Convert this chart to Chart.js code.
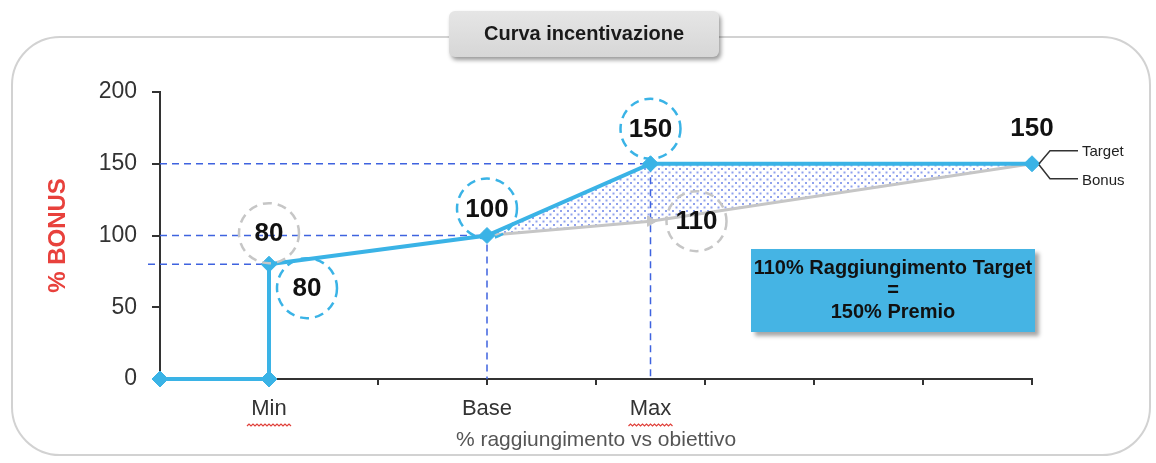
<!DOCTYPE html>
<html>
<head>
<meta charset="utf-8">
<script src="https://cdn.jsdelivr.net/npm/chart.js@4.4.1/dist/chart.umd.min.js"></script>
<style>
  html, body { margin: 0; padding: 0; background: #fff; }
  #wrap { width: 1156px; height: 463px; position: relative; }
</style>
</head>
<body>
<div id="wrap"><canvas id="chart"></canvas></div>
<script>
// x axis: index units, tick marks at every unit, labels only at the named points
const tickValues = [0, 1, 2, 3, 4, 4.5, 5, 6, 7, 8]
const tickNames = { 1: 'Min', 3: 'Base', 4.5: 'Max' }
const yTicks = [0, 50, 100, 150, 200]

// Target curve (blue) and Bonus curve (grey)
const targetX = [0, 1, 1, 3, 4.5, 8]
const targetY = [0, 0, 80, 100, 150, 150]
const bonusX = [3, 4.5, 8]
const bonusY = [100, 110, 150]

// dashed guides: from guideStart across to the point, then down to 0
const guideX = [1, 3, 4.5]
const guideY = [80, 100, 150]
const guideStart = [-0.11, 0, 0]

const infoLines = ['110% Raggiungimento Target', '=', '150% Premio']

const BLUE = '#3ab3e6'
const GREY = '#c6c6c6'
const GUIDE = '#3f63df'
const FONT = "'Liberation Sans', Arial, sans-serif"

const pts = (xs, ys) => xs.map((x, i) => ({ x: x, y: ys[i] }))

function dotPattern() {
  const c = document.createElement('canvas')
  c.width = 7
  c.height = 7
  const g = c.getContext('2d')
  g.fillStyle = 'rgba(70, 100, 225, 0.6)'
  g.fillRect(0, 0, 2, 2)
  g.fillRect(3.5, 3.5, 2, 2)
  return g.createPattern(c, 'repeat')
}

const guideSets = guideX.map((gx, i) => ({
  data: [{ x: guideStart[i], y: guideY[i] }, { x: gx, y: guideY[i] }, { x: gx, y: 0 }],
  borderColor: GUIDE,
  borderWidth: 1.5,
  borderDash: [7, 5],
  pointRadius: 0,
  fill: false,
  clip: false,
  order: 6,
}))

// callouts: [dataset, index, dx, dy, ring colour]
const callouts = [
  ['target', 2, 0, -31, GREY],
  ['target', 2, 38, 24, BLUE],
  ['target', 3, 0, -27, BLUE],
  ['target', 4, 0, -35, BLUE],
  ['bonus', 1, 46, 0, GREY],
  ['target', 5, 0, -36, null],
]

function roundRect(ctx, x, y, w, h, r) {
  ctx.beginPath()
  ctx.moveTo(x + r, y)
  ctx.arcTo(x + w, y, x + w, y + h, r)
  ctx.arcTo(x + w, y + h, x, y + h, r)
  ctx.arcTo(x, y + h, x, y, r)
  ctx.arcTo(x, y, x + w, y, r)
  ctx.closePath()
}

const decorations = {
  id: 'decorations',
  beforeDraw(chart) {
    const ctx = chart.ctx
    ctx.save()
    ctx.fillStyle = '#fff'
    ctx.fillRect(0, 0, chart.width, chart.height)
    ctx.strokeStyle = '#d2d2d2'
    ctx.lineWidth = 2
    roundRect(ctx, 12, 37, 1138, 418, 48)
    ctx.stroke()
    ctx.restore()
  },
  afterDatasetsDraw(chart) {
    const ctx = chart.ctx
    const xs = chart.scales.x
    const ys = chart.scales.y
    const src = { target: [targetX, targetY], bonus: [bonusX, bonusY] }
    ctx.save()
    callouts.forEach(([name, i, dx, dy, ring]) => {
      const [xa, ya] = src[name]
      const cx = xs.getPixelForValue(xa[i]) + dx
      const cy = ys.getPixelForValue(ya[i]) + dy
      if (ring) {
        ctx.beginPath()
        ctx.arc(cx, cy, 30, 0, Math.PI * 2)
        ctx.setLineDash([9, 6])
        ctx.lineWidth = 2.5
        ctx.strokeStyle = ring
        ctx.stroke()
        ctx.setLineDash([])
      }
      ctx.fillStyle = '#111'
      ctx.font = 'bold 26px ' + FONT
      ctx.textAlign = 'center'
      ctx.textBaseline = 'middle'
      ctx.fillText(String(ya[i]), cx, cy + 1)
    })

    // Target / Bonus pointers at the last point
    const px = xs.getPixelForValue(targetX[targetX.length - 1])
    const py = ys.getPixelForValue(targetY[targetY.length - 1])
    ctx.strokeStyle = '#333'
    ctx.lineWidth = 1.5
    ctx.beginPath()
    ctx.moveTo(px + 7, py)
    ctx.lineTo(px + 18, py - 13)
    ctx.lineTo(px + 46, py - 13)
    ctx.moveTo(px + 7, py + 1)
    ctx.lineTo(px + 18, py + 15)
    ctx.lineTo(px + 46, py + 15)
    ctx.stroke()
    ctx.fillStyle = '#222'
    ctx.font = '15px ' + FONT
    ctx.textAlign = 'left'
    ctx.textBaseline = 'middle'
    ctx.fillText('Target', px + 50, py - 12)
    ctx.fillText('Bonus', px + 50, py + 17)

    // info box
    const a = chart.chartArea
    const bx = a.right - 281, by = a.top + 157, bw = 284, bh = 83
    ctx.save()
    ctx.shadowColor = 'rgba(0,0,0,0.35)'
    ctx.shadowBlur = 4
    ctx.shadowOffsetX = 4
    ctx.shadowOffsetY = 4
    ctx.fillStyle = '#45b4e4'
    ctx.fillRect(bx, by, bw, bh)
    ctx.restore()
    ctx.fillStyle = '#111'
    ctx.font = 'bold 20px ' + FONT
    ctx.textAlign = 'center'
    infoLines.forEach((t, i) => ctx.fillText(t, bx + bw / 2, by + 19 + i * 22))
    ctx.restore()
  },
  afterDraw(chart) {
    const ctx = chart.ctx
    const xs = chart.scales.x
    ctx.save()
    // title box over the frame
    ctx.save()
    ctx.shadowColor = 'rgba(0,0,0,0.4)'
    ctx.shadowBlur = 4
    ctx.shadowOffsetX = 2
    ctx.shadowOffsetY = 3
    const grad = ctx.createLinearGradient(0, 10, 0, 58)
    grad.addColorStop(0, '#e6e6e6')
    grad.addColorStop(1, '#d6d6d6')
    ctx.fillStyle = grad
    roundRect(ctx, 449, 11, 270, 46, 6)
    ctx.fill()
    ctx.restore()
    ctx.fillStyle = '#1a1a1a'
    ctx.font = 'bold 20px ' + FONT
    ctx.textAlign = 'center'
    ctx.textBaseline = 'middle'
    ctx.fillText('Curva incentivazione', 584, 34)

    // spell-check squiggles under Min and Max
    ctx.strokeStyle = '#e0403a'
    ctx.lineWidth = 1.2
    ;[1, 4.5].forEach(v => {
      const cx = xs.getPixelForValue(v)
      ctx.beginPath()
      for (let x = -22; x <= 22; x += 2) {
        const y = 425 + ((x / 2) % 2 === 0 ? -1 : 1)
        if (x === -22) ctx.moveTo(cx + x, y)
        else ctx.lineTo(cx + x, y)
      }
      ctx.stroke()
    })
    ctx.restore()
  },
}

const ctx = document.getElementById('chart')
new Chart(ctx, {
  type: 'line',
  data: {
    datasets: [
      {
        label: 'Target',
        data: pts(targetX, targetY),
        borderColor: BLUE,
        backgroundColor: BLUE,
        borderWidth: 4,
        pointStyle: 'rectRot',
        pointRadius: 8,
        pointBackgroundColor: BLUE,
        pointBorderColor: BLUE,
        pointBorderWidth: 1,
        fill: false,
        clip: false,
        order: 1,
      },
      {
        label: 'Bonus',
        data: pts(bonusX, bonusY),
        borderColor: GREY,
        borderWidth: 3,
        pointStyle: 'triangle',
        pointRotation: 90,
        pointRadius: 6,
        pointBackgroundColor: GREY,
        pointBorderColor: GREY,
        pointBorderWidth: 1,
        fill: false,
        clip: false,
        order: 2,
      },
      {
        label: 'area',
        data: pts(targetX.slice(3), targetY.slice(3)),
        borderWidth: 0,
        pointRadius: 0,
        backgroundColor: dotPattern(),
        fill: 1,
        order: 5,
      },
      ...guideSets,
    ],
  },
  options: {
    responsive: true,
    maintainAspectRatio: false,
    animation: false,
    layout: { padding: { top: 92, right: 124, bottom: 0, left: 0 } },
    plugins: {
      legend: { display: false },
      tooltip: { enabled: false },
    },
    scales: {
      x: {
        type: 'linear',
        min: 0,
        max: 8,
        afterBuildTicks: scale => { scale.ticks = tickValues.map(v => ({ value: v })) },
        afterFit: scale => { scale.height = 84 },
        ticks: {
          autoSkip: false,
          maxRotation: 0,
          padding: 11,
          color: '#333',
          font: { family: FONT, size: 22 },
          callback: v => tickNames[v] || '',
        },
        grid: {
          drawOnChartArea: false,
          tickLength: 6,
          lineWidth: 2,
          tickColor: c => (c.tick && c.tick.value === 4.5 ? 'rgba(0,0,0,0)' : '#333'),
        },
        border: { color: '#333', width: 2 },
        title: {
          display: true,
          text: '% raggiungimento vs obiettivo',
          color: '#555',
          font: { family: FONT, size: 21 },
          padding: { top: 0, bottom: 10 },
        },
      },
      y: {
        min: 0,
        max: 200,
        afterBuildTicks: scale => { scale.ticks = yTicks.map(v => ({ value: v })) },
        afterFit: scale => { scale.width = 160 },
        ticks: {
          padding: 15,
          color: '#333',
          font: { family: FONT, size: 23 },
        },
        grid: {
          drawOnChartArea: false,
          tickLength: 8,
          lineWidth: 2,
          tickColor: '#333',
        },
        border: { color: '#333', width: 2 },
        title: {
          display: true,
          text: '% BONUS',
          color: '#e8413c',
          font: { family: FONT, size: 24, weight: 'bold' },
          padding: { top: 44, bottom: 0 },
        },
      },
    },
  },
  plugins: [decorations],
})
</script>
</body>
</html>
